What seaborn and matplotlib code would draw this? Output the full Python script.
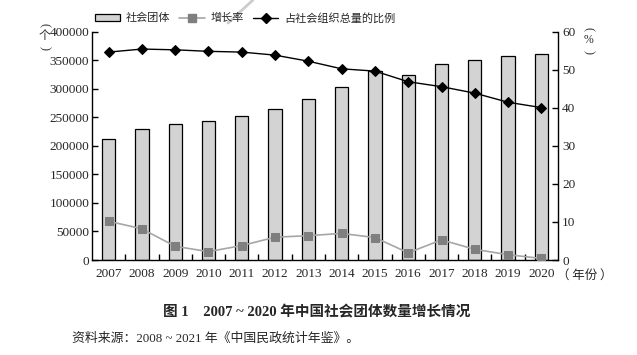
import numpy as np
import pandas as pd
import matplotlib
matplotlib.use("Agg")
import matplotlib.pyplot as plt
import seaborn as sns
from matplotlib.patches import Patch
from matplotlib.lines import Line2D

years = ["2007", "2008", "2009", "2010", "2011", "2012", "2013",
         "2014", "2015", "2016", "2017", "2018", "2019", "2020"]
social_groups = [213000, 229000, 238000, 243000, 252000, 264000, 283000,
                 304000, 331000, 325000, 344000, 351000, 358000, 361000]
growth_rate = [10.2, 8.2, 3.6, 2.2, 3.8, 6.0, 6.4, 7.0, 5.9, 1.9, 5.3, 2.8, 1.4, 0.4]
share = [54.7, 55.5, 55.3, 54.9, 54.7, 53.9, 52.3, 50.3, 49.7, 46.9, 45.6, 43.9, 41.5, 40.1]
left_ticks = [0, 50000, 100000, 150000, 200000, 250000, 300000, 350000, 400000]
right_ticks = [0, 10, 20, 30, 40, 50, 60]

sns.set_theme(style="white")
plt.rcParams['font.family'] = ['Liberation Serif', 'Noto Sans CJK SC']
plt.rcParams['font.size'] = 9.5

df = pd.DataFrame({"year": years, "groups": social_groups,
                   "growth": growth_rate, "share": share})
df["pos"] = np.arange(len(df))

fig = plt.figure(figsize=(6.37, 3.55), dpi=100)
ax = fig.add_axes([0.1444, 0.2676, 0.876 - 0.1444, 0.910 - 0.2676])

sns.barplot(data=df, x="year", y="groups", ax=ax, color="#d3d3d3",
            edgecolor="black", linewidth=0.9, width=0.4, saturation=1)
ax.set_xlim(-0.5, len(years) - 0.5)
ax.set_ylim(0, 400000)
ax.set_yticks(left_ticks)
ax.set_yticklabels([str(t) for t in left_ticks])
ax.set_xlabel("")
ax.set_ylabel("")

ax2 = ax.twinx()
sns.lineplot(data=df, x="pos", y="growth", ax=ax2, color="#a6a6a6", linewidth=1.2,
             marker="s", markersize=6, markerfacecolor="#7f7f7f",
             markeredgecolor="#7f7f7f")
sns.lineplot(data=df, x="pos", y="share", ax=ax2, color="black", linewidth=1.0,
             marker="D", markersize=5.5, markerfacecolor="black",
             markeredgecolor="black")
ax2.set_ylim(0, 60)
ax2.set_yticks(right_ticks)
ax2.set_yticklabels([str(t) for t in right_ticks])
ax2.set_xlim(-0.5, len(years) - 0.5)
ax2.set_xlabel("")
ax2.set_ylabel("")

for a in (ax, ax2):
    a.spines['top'].set_visible(False)
    for s in a.spines.values():
        s.set_color("black")
        s.set_linewidth(1.0)
ax.spines['right'].set_visible(False)
ax2.spines['left'].set_visible(False)
ax2.spines['bottom'].set_visible(False)

ax.tick_params(axis='y', direction='in', length=4, width=1, color='black',
               labelsize=9.5, pad=2, left=True)
ax2.tick_params(axis='y', direction='in', length=4, width=1, color='black',
                labelsize=9.5, pad=3, right=True)
ax.set_xticks(np.arange(len(years)))
ax.set_xticklabels(years)
ax.set_xticks(np.arange(len(years) - 1) + 0.5, minor=True)
ax.tick_params(axis='x', which='major', length=0, labelsize=9.5, pad=6)
ax.tick_params(axis='x', which='minor', direction='in', length=4, width=1,
               color='black', bottom=True)

# unit labels (vertical parentheses)
def vlabel(xpx, ytop, ymid, ybot, s, fam):
    fig.text(xpx / 637, 1 - ytop / 355, "(", rotation=-90, ha='center', va='center',
             fontsize=9, family=['Liberation Serif'], color="#333333")
    fig.text(xpx / 637, 1 - ymid / 355, s, ha='center', va='center',
             fontsize=8.5, family=fam)
    fig.text(xpx / 637, 1 - ybot / 355, ")", rotation=-90, ha='center', va='center',
             fontsize=9, family=['Liberation Serif'], color="#333333")

vlabel(44, 25, 36, 48, "个", ['Noto Sans CJK SC'])
vlabel(588, 29, 40, 52, "%", ['Liberation Serif'])
fig.text(557 / 637, 1 - 275 / 355, "（ 年份 ）", ha='left', va='center',
         fontsize=9, family=['Noto Sans CJK SC'])

# legend
handles = [Patch(facecolor="#d3d3d3", edgecolor="black", linewidth=0.9),
           Line2D([0], [0], color="#a6a6a6", linewidth=1.2, marker="s",
                  markersize=6, markerfacecolor="#7f7f7f", markeredgecolor="#7f7f7f"),
           Line2D([0], [0], color="black", linewidth=1.0, marker="D",
                  markersize=5, markerfacecolor="black", markeredgecolor="black")]
labels = ["社会团体", "增长率", "占社会组织总量的比例"]
fig.legend(handles, labels, loc='center', bbox_to_anchor=(245 / 637, 1 - 18 / 355),
           ncol=3, frameon=False, handlelength=2.3, handletextpad=0.5,
           columnspacing=0.8, prop={'family': ['Noto Sans CJK SC'], 'size': 8})

# faint diagonal stroke seen in the source image
fig.add_artist(Line2D([228 / 637, 253 / 637], [1 - 23 / 355, 1.0],
                      color="#cccccc", linewidth=2, transform=fig.transFigure))

fig.text(317 / 637, 1 - 312 / 355, "图 1　2007 ~ 2020 年中国社会团体数量增长情况",
         ha='center', va='center', fontsize=10.5, fontweight='bold',
         family=['Liberation Serif', 'Noto Sans CJK SC'])
fig.text(72 / 637, 1 - 339 / 355, "资料来源：2008 ~ 2021 年《中国民政统计年鉴》。",
         ha='left', va='center', fontsize=9.3,
         family=['Liberation Serif', 'Noto Sans CJK SC'])

fig.savefig("out.png", dpi=100)
